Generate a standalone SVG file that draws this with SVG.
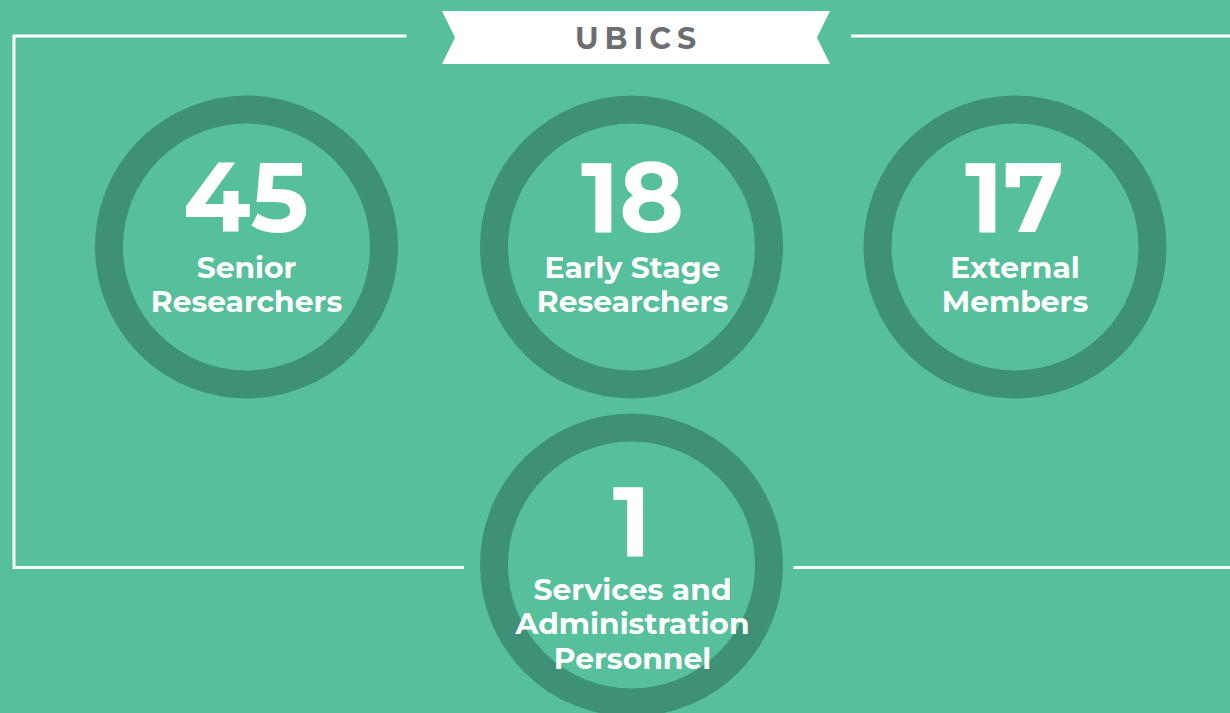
<svg xmlns="http://www.w3.org/2000/svg" width="1230" height="713" viewBox="0 0 1230 713">
<style>
.ring{fill:none;stroke:#3e9176;stroke-width:28}
.frame{fill:none;stroke:#fff;stroke-width:3}
text{font-family:"Montserrat","Inter","Open Sans","Liberation Sans",sans-serif;fill:#fff;font-weight:700;text-anchor:middle}
.num{font-size:98px;font-weight:700}
.lab{font-size:29.800px}
</style>
<rect width="1230" height="713" fill="#56bf9b"/>
<g id="connectors">
<path class="frame" d="M406.500 36H14V567.500H464"/>
<path class="frame" d="M851 36H1230"/>
<path class="frame" d="M793.500 567.500H1230"/>
</g>
<g id="banner">
<polygon points="442,11 830,11 817,37.500 830,64 442,64 455,37.500" fill="#fff"/>
<text x="638.500" y="49" style="fill:#6d6e71;font-size:30px;letter-spacing:6px">UBICS</text>
</g>
<g id="senior">
<circle class="ring" cx="246.500" cy="247" r="137.500"/>
<text class="num" x="246" y="232">45</text>
<text class="lab" x="246.500" y="278">Senior</text>
<text class="lab" x="246.500" y="312">Researchers</text>
</g>
<g id="early">
<circle class="ring" cx="631.500" cy="247" r="137.500"/>
<text class="num" x="632.500" y="232">18</text>
<text class="lab" x="632.500" y="278">Early Stage</text>
<text class="lab" x="632.500" y="312">Researchers</text>
</g>
<g id="external">
<circle class="ring" cx="1015" cy="247" r="137.500"/>
<text class="num" x="1014.500" y="232">17</text>
<text class="lab" x="1015" y="278">External</text>
<text class="lab" x="1015" y="312">Members</text>
</g>
<g id="services">
<circle class="ring" cx="631.500" cy="565" r="137.500"/>
<text class="num" x="632" y="556">1</text>
<text class="lab" x="632.500" y="600">Services and</text>
<text class="lab" x="632.500" y="634">Administration</text>
<text class="lab" x="632.500" y="669">Personnel</text>
</g>
</svg>
